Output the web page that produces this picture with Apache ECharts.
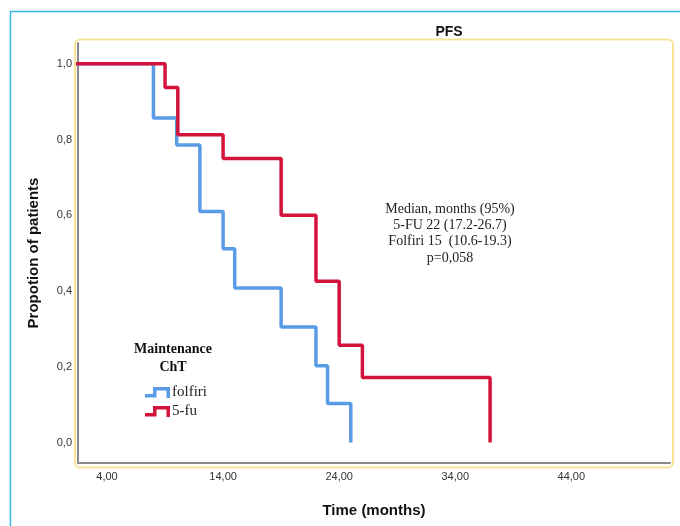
<!DOCTYPE html>
<html>
<head>
<meta charset="utf-8">
<script src="https://cdn.jsdelivr.net/npm/echarts@6/dist/echarts.min.js"></script>
<style>html,body{margin:0;padding:0;background:#fff;}#c{width:680px;height:526px;}</style>
</head>
<body>
<div id="c"></div>
<script>
// Data
const folfiriTimes = [0, 8, 10, 12, 14, 15, 19, 22, 23, 25];
const folfiriSurv  = [1, 0.857, 0.786, 0.61, 0.512, 0.408, 0.305, 0.203, 0.103, 0];
const fuTimes = [0, 9, 10.1, 14, 19, 22, 24, 26, 37];
const fuSurv  = [1, 0.9375, 0.8125, 0.75, 0.6, 0.426, 0.257, 0.172, 0];
const xTicks = [4, 14, 24, 34, 44];
const yTicks = [0, 0.2, 0.4, 0.6, 0.8, 1.0];
const seriesNames = ['folfiri', '5-fu'];
const annotationLines = ['Median, months (95%)', '5-FU 22 (17.2-26.7)', 'Folfiri 15  (10.6-19.3)', 'p=0,058'];

const zip = (a, b) => a.map((v, i) => [v, b[i]]);
const stepIcon = 'path://M0,7 L8,7 L8,0 L25,0 L25,11 L21.5,11 L21.5,3.5 L11.5,3.5 L11.5,10.5 L0,10.5 Z';
const BLUE = '#5A9BE6', RED = '#D4133D';

const chart = echarts.init(document.getElementById('c'), null, {renderer: 'canvas'});
chart.setOption({
  animation: false,
  backgroundColor: '#ffffff',
  grid: {left: 78, right: 10, top: 43, bottom: 63, containLabel: false},
  xAxis: {
    type: 'value', min: 1.5, max: 52.5,
    name: 'Time (months)', nameLocation: 'middle', nameGap: 40,
    nameTextStyle: {fontFamily: 'Liberation Sans', fontWeight: 'bold', fontSize: 15, color: '#111'},
    axisLine: {show: true, onZero: false, lineStyle: {color: '#8a8a8a', width: 2}},
    axisTick: {show: false},
    splitLine: {show: false},
    axisLabel: {customValues: xTicks, formatter: v => v.toFixed(2).replace('.', ','),
      fontFamily: 'Liberation Sans', fontSize: 11, color: '#333', margin: 8}
  },
  yAxis: {
    type: 'value', min: -0.054, max: 1.055,
    name: 'Propotion of patients', nameLocation: 'middle', nameGap: 37, nameRotate: 90,
    nameTextStyle: {fontFamily: 'Liberation Sans', fontWeight: 'bold', fontSize: 15, color: '#111'},
    axisLine: {show: true, onZero: false, lineStyle: {color: '#8a8a8a', width: 2}},
    axisTick: {show: false},
    splitLine: {show: false},
    axisLabel: {customValues: yTicks, formatter: v => v.toFixed(1).replace('.', ','),
      fontFamily: 'Liberation Sans', fontSize: 11, color: '#333', margin: 6}
  },
  legend: {
    orient: 'vertical', left: 145, top: 385, padding: 0, itemWidth: 25, itemHeight: 11, itemGap: 4,
    data: [{name: seriesNames[0], icon: stepIcon}, {name: seriesNames[1], icon: stepIcon}],
    textStyle: {fontFamily: 'Liberation Serif', fontSize: 15, color: '#222', padding: [0, 0, 0, -3]}
  },
  graphic: [
    {type: 'rect', z: -10, silent: true, shape: {x: 10.5, y: 11.5, width: 800, height: 800},
      style: {fill: 'none', stroke: '#3AB6E6', lineWidth: 1.5}},
    {type: 'rect', z: -10, silent: true, shape: {x: 75, y: 39.5, width: 598, height: 428, r: 5},
      style: {fill: 'none', stroke: '#F8E39A', lineWidth: 2}},
    {type: 'text', silent: true, x: 449, y: 32, style: {text: 'PFS', fontFamily: 'Liberation Sans', fontWeight: 'bold', fontSize: 14, fill: '#111', align: 'center', verticalAlign: 'middle'}},
    {type: 'text', silent: true, x: 450, y: 201, style: {text: annotationLines.join('\n'), fontFamily: 'Liberation Serif', fontSize: 14, lineHeight: 16.3, fill: '#222', align: 'center', verticalAlign: 'top'}},
    {type: 'text', silent: true, x: 173, y: 340, style: {text: 'Maintenance\nChT', fontFamily: 'Liberation Serif', fontWeight: 'bold', fontSize: 14, lineHeight: 18, fill: '#111', align: 'center', verticalAlign: 'top'}}
  ],
  series: [
    {name: seriesNames[0], type: 'line', step: 'end', showSymbol: false, symbol: 'none',
      data: zip(folfiriTimes, folfiriSurv), color: BLUE, lineStyle: {color: BLUE, width: 3.5}},
    {name: seriesNames[1], type: 'line', step: 'end', showSymbol: false, symbol: 'none',
      data: zip(fuTimes, fuSurv), color: RED, lineStyle: {color: RED, width: 3.5}}
  ]
});
</script>
</body>
</html>
